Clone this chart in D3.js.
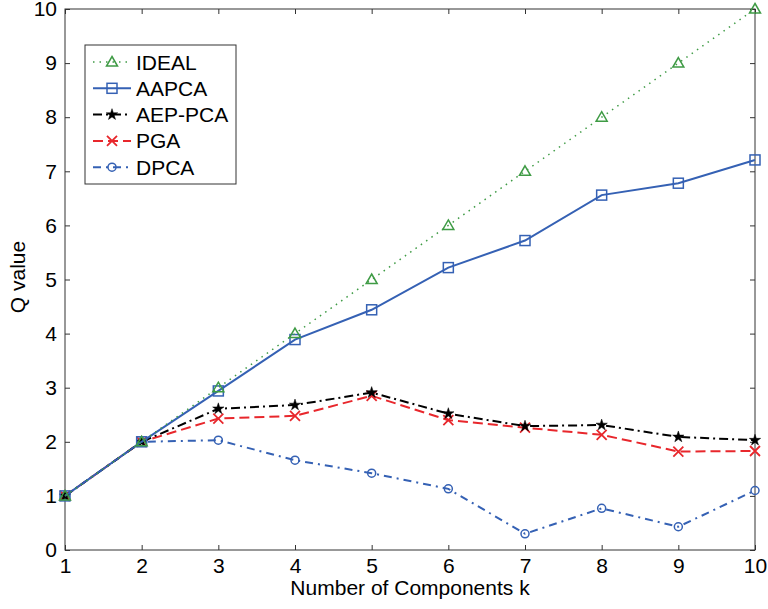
<!DOCTYPE html>
<html>
<head>
<meta charset="utf-8">
<script src="https://cdnjs.cloudflare.com/ajax/libs/d3/7.8.5/d3.min.js"></script>
<style>
  body { margin: 0; background: #fff; }
  text { font-family: "Liberation Sans", Arial, sans-serif; }
</style>
</head>
<body>
<div id="chart"></div>
<script>
var kValues = [1, 2, 3, 4, 5, 6, 7, 8, 9, 10];
var ideal  = [1, 2, 3, 4, 5, 6, 7, 8, 9, 10];
var aapca  = [1, 2, 2.94, 3.89, 4.44, 5.22, 5.72, 6.56, 6.78, 7.21];
var aeppca = [1, 2, 2.61, 2.68, 2.91, 2.52, 2.29, 2.31, 2.09, 2.03];
var pga    = [1, 2, 2.43, 2.48, 2.85, 2.4, 2.26, 2.13, 1.82, 1.83];
var dpca   = [1, 2, 2.03, 1.66, 1.42, 1.13, 0.3, 0.77, 0.43, 1.1];
var xTicks = [1, 2, 3, 4, 5, 6, 7, 8, 9, 10];
var yTicks = [0, 1, 2, 3, 4, 5, 6, 7, 8, 9, 10];

var series = [
  {name: 'IDEAL',   values: ideal,  color: '#3f9b45', dash: '1.5,5',      width: 1.5, marker: 'triangle'},
  {name: 'AAPCA',   values: aapca,  color: '#3561b4', dash: null,         width: 2,   marker: 'square'},
  {name: 'AEP-PCA', values: aeppca, color: '#000000', dash: '9,4,2,4',    width: 2,   marker: 'star'},
  {name: 'PGA',     values: pga,    color: '#e8272c', dash: '10,5',       width: 2,   marker: 'cross'},
  {name: 'DPCA',    values: dpca,   color: '#3561b4', dash: '8,5,2,5',    width: 2,   marker: 'circle'}
];

var width = 768, height = 609;
var mLeft = 65, mRight = 755, mTop = 9, mBottom = 550;
var fontSize = '21px';

var svg = d3.select('#chart')
  .append('svg')
  .attr('width', width)
  .attr('height', height);

var x = d3.scaleLinear().domain([1, 10]).range([mLeft, mRight]);
var y = d3.scaleLinear().domain([0, 10]).range([mBottom, mTop]);

var axisColor = '#333';

// ticks (inward, on all four sides)
var axB = svg.append('g').attr('transform', 'translate(0,' + mBottom + ')')
  .call(d3.axisBottom(x).tickValues(xTicks).tickSize(-5).tickPadding(6).tickFormat(d3.format('d')));
var axT = svg.append('g').attr('transform', 'translate(0,' + mTop + ')')
  .call(d3.axisTop(x).tickValues(xTicks).tickSize(-5).tickFormat(''));
var axL = svg.append('g').attr('transform', 'translate(' + mLeft + ',0)')
  .call(d3.axisLeft(y).tickValues(yTicks).tickSize(-5).tickPadding(8).tickFormat(d3.format('d')));
var axR = svg.append('g').attr('transform', 'translate(' + mRight + ',0)')
  .call(d3.axisRight(y).tickValues(yTicks).tickSize(-5).tickFormat(''));

[axB, axT, axL, axR].forEach(function(a) {
  a.select('.domain').remove();
  a.selectAll('.tick line').attr('stroke', axisColor);
  a.selectAll('.tick text').attr('fill', '#000').style('font-size', fontSize)
    .style('font-family', '"Liberation Sans", Arial, sans-serif');
});
axB.selectAll('.tick text').attr('dy', '0.8em');

svg.append('rect')
  .attr('x', mLeft).attr('y', mTop)
  .attr('width', mRight - mLeft).attr('height', mBottom - mTop)
  .attr('fill', 'none').attr('stroke', axisColor).attr('stroke-width', 1);

function drawMarker(g, type, color) {
  if (type === 'triangle') {
    g.append('path').attr('d', 'M0,-5.5L5.5,4L-5.5,4Z')
      .attr('fill', 'none').attr('stroke', color).attr('stroke-width', 1.5);
  } else if (type === 'square') {
    g.append('rect').attr('x', -5).attr('y', -5).attr('width', 10).attr('height', 10)
      .attr('fill', 'none').attr('stroke', color).attr('stroke-width', 1.5);
  } else if (type === 'star') {
    g.append('path').attr('d', d3.symbol().type(d3.symbolStar).size(40)())
      .attr('fill', color).attr('stroke', color).attr('stroke-width', 0.5);
  } else if (type === 'cross') {
    g.append('path').attr('d', 'M-5,-5L5,5M-5,5L5,-5')
      .attr('stroke', color).attr('stroke-width', 1.8).attr('fill', 'none');
  } else if (type === 'circle') {
    g.append('circle').attr('r', 4)
      .attr('fill', 'none').attr('stroke', color).attr('stroke-width', 1.5);
  }
}

var line = d3.line()
  .x(function(d, i) { return x(kValues[i]); })
  .y(function(d) { return y(d); });

// draw in reverse so IDEAL/AAPCA sit on top near k=1,2
series.slice().reverse().forEach(function(s) {
  svg.append('path')
    .datum(s.values)
    .attr('d', line)
    .attr('fill', 'none')
    .attr('stroke', s.color)
    .attr('stroke-width', s.width)
    .attr('stroke-dasharray', s.dash);
  s.values.forEach(function(v, i) {
    var g = svg.append('g').attr('transform', 'translate(' + x(kValues[i]) + ',' + y(v) + ')');
    drawMarker(g, s.marker, s.color);
  });
});

// legend
var lg = svg.append('g');
lg.append('rect')
  .attr('x', 85).attr('y', 45).attr('width', 151).attr('height', 139)
  .attr('fill', '#fff').attr('stroke', axisColor).attr('stroke-width', 1);
series.forEach(function(s, i) {
  var ly = 62 + i * 26.3;
  lg.append('line')
    .attr('x1', 93).attr('x2', 131).attr('y1', ly).attr('y2', ly)
    .attr('stroke', s.color).attr('stroke-width', s.width)
    .attr('stroke-dasharray', s.dash);
  var g = lg.append('g').attr('transform', 'translate(112,' + ly + ')');
  drawMarker(g, s.marker, s.color);
  lg.append('text')
    .attr('x', 136).attr('y', ly).attr('dy', '0.36em')
    .style('font-size', fontSize)
    .text(s.name);
});

svg.append('text')
  .attr('x', (mLeft + mRight) / 2).attr('y', 595)
  .attr('text-anchor', 'middle')
  .style('font-size', fontSize)
  .text('Number of Components k');

svg.append('text')
  .attr('transform', 'translate(25,' + 277 + ') rotate(-90)')
  .attr('text-anchor', 'middle')
  .style('font-size', fontSize)
  .text('Q value');
</script>
</body>
</html>
